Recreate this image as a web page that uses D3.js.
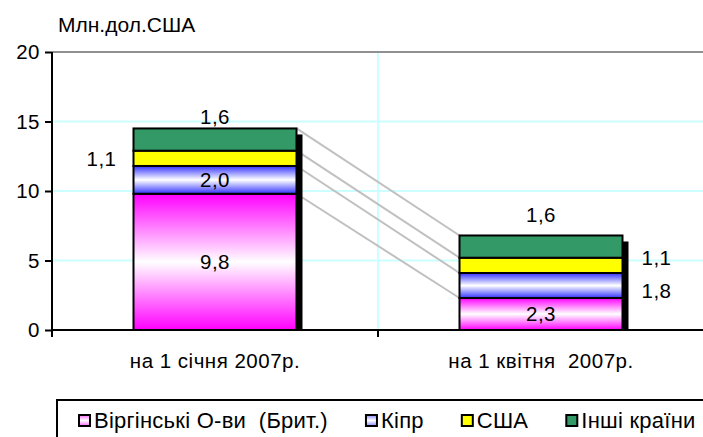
<!DOCTYPE html>
<html>
<head>
  <meta charset="utf-8">
  <title>Млн.дол.США</title>
  <style>
    body { margin: 0; background: #fff; font-family: "Liberation Sans", Arial, sans-serif; }
    svg text { font-family: "Liberation Sans", Arial, sans-serif; fill: #000; white-space: pre; }
  </style>
</head>
<body>
  <script src="https://cdn.jsdelivr.net/npm/d3@7"></script>
  <script>
    // data
    var categories = ["на 1 січня 2007р.", "на 1 квітня  2007р."];
    var seriesNames = ["Віргінські О-ви  (Брит.)", "Кіпр", "США", "Інші країни"];
    var virgin = [9.8, 2.3];
    var cyprus = [2.0, 1.8];
    var usa = [1.1, 1.1];
    var others = [1.6, 1.6];
    var yTicks = [0, 5, 10, 15, 20];

    var W = 703, H = 437;
    var margin = { top: 52, left: 52, right: -1, bottom: 107 };
    var plotRight = W - margin.right, plotBottom = H - margin.bottom;
    var fontSize = "20.5px";

    var svg = d3.select("body").append("svg")
      .attr("width", W)
      .attr("height", H);

    var x = d3.scaleBand()
      .domain(categories)
      .range([margin.left, plotRight])
      .padding(0);
    var y = d3.scaleLinear()
      .domain([0, 20])
      .range([plotBottom, margin.top]);

    var fmt = d3.formatLocale({ decimal: ",", thousands: " ", grouping: [3], currency: ["", ""] }).format(".1f");

    // gradients
    var defs = svg.append("defs");
    function gradient(id, edge, mid) {
      var g = defs.append("linearGradient").attr("id", id)
        .attr("x1", 0).attr("y1", 0).attr("x2", 0).attr("y2", 1);
      g.append("stop").attr("offset", "0%").attr("stop-color", edge);
      g.append("stop").attr("offset", "50%").attr("stop-color", mid);
      g.append("stop").attr("offset", "100%").attr("stop-color", edge);
    }
    gradient("gPink", "#ff00ff", "#ffffff");
    gradient("gBlue", "#3333ff", "#ffffff");
    gradient("gPinkL", "#ff66ff", "#ffffff");
    gradient("gBlueL", "#8888ff", "#ffffff");

    var fills = ["url(#gPink)", "url(#gBlue)", "#ffff00", "#339966"];
    var legendFills = ["url(#gPinkL)", "url(#gBlueL)", "#ffff00", "#339966"];

    // stack the series
    var rows = categories.map(function (c, i) {
      return { cat: c, s0: virgin[i], s1: cyprus[i], s2: usa[i], s3: others[i] };
    });
    var stack = d3.stack().keys(["s0", "s1", "s2", "s3"])(rows);

    // grid
    svg.append("g").selectAll("line")
      .data(yTicks.filter(function (d) { return d > 0 && d < 20; }))
      .join("line")
      .attr("x1", margin.left).attr("x2", plotRight)
      .attr("y1", d => y(d)).attr("y2", d => y(d))
      .attr("stroke", "#ccffff").attr("stroke-width", 2);
    svg.append("line")
      .attr("x1", x(categories[1])).attr("x2", x(categories[1]))
      .attr("y1", margin.top).attr("y2", plotBottom)
      .attr("stroke", "#ccffff").attr("stroke-width", 2);
    svg.append("line")
      .attr("x1", margin.left).attr("x2", plotRight)
      .attr("y1", y(20)).attr("y2", y(20))
      .attr("stroke", "#909090").attr("stroke-width", 2);

    var bw = x.bandwidth() * 0.5;
    var bx = function (c) { return x(c) + x.bandwidth() * 0.25; };

    // connector lines between the segment tops
    svg.append("g").selectAll("line")
      .data(stack)
      .join("line")
      .attr("x1", bx(categories[0]) + bw)
      .attr("y1", d => y(d[0][1]))
      .attr("x2", bx(categories[1]))
      .attr("y2", d => y(d[1][1]))
      .attr("stroke", "#c0c0c0").attr("stroke-width", 2);

    // shadows
    svg.append("g").selectAll("rect")
      .data(rows)
      .join("rect")
      .attr("x", d => bx(d.cat) + 6)
      .attr("y", d => y(d.s0 + d.s1 + d.s2 + d.s3) + 6)
      .attr("width", bw)
      .attr("height", d => plotBottom - y(d.s0 + d.s1 + d.s2 + d.s3) - 6)
      .attr("fill", "#000");

    // bars
    svg.append("g").selectAll("g")
      .data(stack)
      .join("g")
      .attr("fill", (d, i) => fills[i])
      .selectAll("rect")
      .data(d => d)
      .join("rect")
      .attr("x", d => bx(d.data.cat))
      .attr("y", d => y(d[1]))
      .attr("width", bw)
      .attr("height", d => y(d[0]) - y(d[1]))
      .attr("stroke", "#000")
      .attr("stroke-width", 2);

    // axes
    svg.append("line")
      .attr("x1", margin.left).attr("x2", margin.left)
      .attr("y1", margin.top).attr("y2", plotBottom + 7)
      .attr("stroke", "#000").attr("stroke-width", 2);
    svg.append("line")
      .attr("x1", margin.left).attr("x2", plotRight)
      .attr("y1", plotBottom).attr("y2", plotBottom)
      .attr("stroke", "#000").attr("stroke-width", 2);
    svg.append("line")
      .attr("x1", x(categories[1])).attr("x2", x(categories[1]))
      .attr("y1", plotBottom).attr("y2", plotBottom + 7)
      .attr("stroke", "#000").attr("stroke-width", 2);

    var yAxis = svg.append("g")
      .attr("transform", "translate(" + margin.left + ",0)")
      .call(d3.axisLeft(y).tickValues(yTicks).tickSize(7).tickPadding(5).tickFormat(d3.format("d")));
    yAxis.select(".domain").remove();
    yAxis.selectAll(".tick line").attr("stroke", "#000").attr("stroke-width", 2);
    yAxis.selectAll(".tick text").style("font-size", fontSize).style("letter-spacing", "0.5px");

    svg.append("g").selectAll("text")
      .data(categories)
      .join("text")
      .attr("x", d => x(d) + x.bandwidth() / 2)
      .attr("y", plotBottom + 38)
      .attr("text-anchor", "middle")
      .style("font-size", fontSize)
      .style("letter-spacing", "0.5px")
      .text(d => d);

    svg.append("text")
      .attr("x", 58).attr("y", 32)
      .style("font-size", "21px")
      .text("Млн.дол.США");

    // data labels: per series placement (center / side / top)
    var placement = ["center", "center", "side", "top"];
    var labels = [];
    stack.forEach(function (s, si) {
      s.forEach(function (d, ci) {
        labels.push({ si: si, ci: ci, v: d[1] - d[0], lo: d[0], hi: d[1], cat: d.data.cat });
      });
    });
    svg.append("g").selectAll("text")
      .data(labels)
      .join("text")
      .attr("text-anchor", "middle")
      .style("font-size", fontSize)
      .style("letter-spacing", "0.5px")
      .attr("x", function (d) {
        var p = placement[d.si];
        if (p === "side") return d.ci === 0 ? bx(d.cat) - 32 : bx(d.cat) + bw + 34;
        if (d.si === 1 && d.ci === 1) return bx(d.cat) + bw + 34;
        return bx(d.cat) + bw / 2;
      })
      .attr("y", function (d) {
        var p = placement[d.si];
        if (p === "top") return y(d.hi) - (d.ci === 0 ? 4 : 13);
        if (p === "side") return (y(d.lo) + y(d.hi)) / 2 + (d.ci === 0 ? 8 : 0);
        if (d.si === 1 && d.ci === 1) return (y(d.lo) + y(d.hi)) / 2 + 12;
        return (y(d.lo) + y(d.hi)) / 2 + 7;
      })
      .text(d => fmt(d.v));

    // legend
    var legend = svg.append("g");
    legend.append("rect")
      .attr("x", 57).attr("y", 400)
      .attr("width", 700).attr("height", 60)
      .attr("fill", "#fff").attr("stroke", "#000").attr("stroke-width", 2);
    var lx = 79;
    seriesNames.forEach(function (name, i) {
      legend.append("rect")
        .attr("x", lx).attr("y", 415)
        .attr("width", 11).attr("height", 11)
        .attr("fill", legendFills[i]).attr("stroke", "#000").attr("stroke-width", 2);
      var t = legend.append("text")
        .attr("x", lx + 15).attr("y", 428)
        .style("font-size", "22px")
        .style("letter-spacing", "0.25px")
        .text(name);
      lx += 15 + t.node().getComputedTextLength() + 38;
    });
  </script>
</body>
</html>
